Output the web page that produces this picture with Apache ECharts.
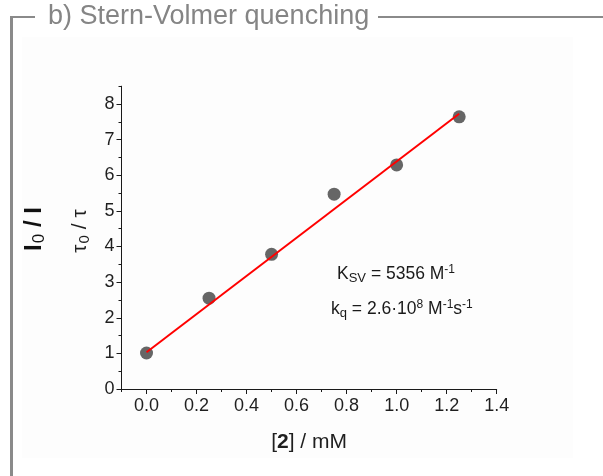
<!DOCTYPE html>
<html>
<head>
<meta charset="utf-8">
<script src="https://cdn.jsdelivr.net/npm/echarts@6/dist/echarts.min.js"></script>
<style>
  html, body { margin: 0; padding: 0; background: #ffffff; }
  #chart { width: 603px; height: 476px; }
</style>
</head>
<body>
<div id="chart"></div>
<script>
// Quencher concentration [2] in mM
const concentrations = [0.0, 0.25, 0.5, 0.75, 1.0, 1.25];
// Lifetime ratio tau0 / tau at each concentration
const tauRatios = [1.01, 2.55, 3.78, 5.47, 6.29, 7.64];
// Linear Stern-Volmer fit endpoints (slope 5.356 mM^-1 = 5356 M^-1)
const fitX = [0.0, 1.25];
const fitY = [1.03, 7.725];
// Axis tick labels
const xTicks = [0.0, 0.2, 0.4, 0.6, 0.8, 1.0, 1.2, 1.4];
const yTicks = [0, 1, 2, 3, 4, 5, 6, 7, 8];

const FONT = 'Liberation Sans, Arial, sans-serif';
const chart = echarts.init(document.getElementById('chart'), null, { renderer: 'canvas' });

const axisLineStyle = { color: '#1a1a1a', width: 1 };

const option = {
  backgroundColor: '#ffffff',
  animation: false,
  grid: { left: 121.5, right: 106.3, top: 86.2, bottom: 87, containLabel: false },
  xAxis: [
    {
      type: 'value', min: -0.1, max: 1.4,
      axisLine: { show: true, onZero: false, lineStyle: axisLineStyle },
      axisTick: { show: true, length: 5, customValues: xTicks, lineStyle: axisLineStyle },
      axisLabel: {
        show: true, customValues: xTicks, color: '#1f1f1f', fontSize: 18, fontFamily: FONT, margin: 8,
        formatter: v => v.toFixed(1)
      },
      splitLine: { show: false },
      name: '[{b|2}] / mM',
      nameLocation: 'middle',
      nameGap: 43,
      nameTextStyle: {
        color: '#1f1f1f', fontSize: 21, fontFamily: FONT,
        rich: { b: { fontSize: 21, fontWeight: 'bold', fontFamily: FONT, color: '#1f1f1f' } }
      }
    },
    {
      type: 'value', min: -0.1, max: 1.4, interval: 0.1, position: 'bottom',
      axisLine: { show: false, onZero: false },
      axisTick: { show: true, length: 3, lineStyle: axisLineStyle },
      axisLabel: { show: false },
      splitLine: { show: false }
    }
  ],
  yAxis: [
    {
      type: 'value', min: 0, max: 8.5,
      axisLine: { show: true, onZero: false, lineStyle: axisLineStyle },
      axisTick: { show: true, length: 5, customValues: yTicks, lineStyle: axisLineStyle },
      axisLabel: {
        show: true, customValues: yTicks, color: '#1f1f1f', fontSize: 18, fontFamily: FONT, margin: 7
      },
      splitLine: { show: false }
    },
    {
      type: 'value', min: 0, max: 8.5, interval: 0.5, position: 'left',
      axisLine: { show: false, onZero: false },
      axisTick: { show: true, length: 3, lineStyle: axisLineStyle },
      axisLabel: { show: false },
      splitLine: { show: false }
    }
  ],
  series: [
    {
      type: 'scatter',
      xAxisIndex: 0, yAxisIndex: 0,
      data: concentrations.map((c, i) => [c, tauRatios[i]]),
      symbol: 'circle',
      symbolSize: 13,
      itemStyle: { color: '#404040' },
      z: 2
    },
    {
      type: 'line',
      xAxisIndex: 0, yAxisIndex: 0,
      data: fitX.map((x, i) => [x, fitY[i]]),
      showSymbol: false,
      symbol: 'none',
      lineStyle: { color: '#ff0000', width: 2 },
      z: 3
    }
  ],
  graphic: [
    // panel background and frame
    { type: 'rect', z: -10, silent: true, shape: { x: 22, y: 37, width: 551, height: 421 }, style: { fill: '#fdfdfd' } },
    { type: 'line', z: 10, silent: true, shape: { x1: 11.5, y1: 16, x2: 11.5, y2: 476 }, style: { stroke: '#8a8a8a', lineWidth: 3 } },
    { type: 'line', z: 10, silent: true, shape: { x1: 10, y1: 17, x2: 35, y2: 17 }, style: { stroke: '#8a8a8a', lineWidth: 2 } },
    { type: 'line', z: 10, silent: true, shape: { x1: 378, y1: 17, x2: 603, y2: 17 }, style: { stroke: '#8a8a8a', lineWidth: 2 } },
    {
      type: 'text', z: 10, silent: true, x: 48, y: 17,
      style: {
        text: 'b) Stern-Volmer quenching', fill: '#858585', verticalAlign: 'middle',
        font: '27px Liberation Sans, Arial, sans-serif'
      }
    },
    // y-axis titles
    {
      type: 'text', z: 10, silent: true, x: 34, y: 229, rotation: Math.PI / 2,
      style: {
        text: '{m|I}{s|0}{m| / I}', align: 'center', verticalAlign: 'middle',
        rich: {
          m: { fontSize: 24, fontWeight: 'bold', fontFamily: FONT, fill: '#111111' },
          s: { fontSize: 17, fontFamily: FONT, fill: '#111111', padding: [10, 0, 0, 1] }
        }
      }
    },
    {
      type: 'text', z: 10, silent: true, x: 80, y: 231, rotation: Math.PI / 2,
      style: {
        text: '{m|τ}{s|0}{m| / τ}', align: 'center', verticalAlign: 'middle',
        rich: {
          m: { fontSize: 21, fontFamily: FONT, fill: '#1f1f1f' },
          s: { fontSize: 15, fontFamily: FONT, fill: '#1f1f1f', padding: [9, 0, 0, 1] }
        }
      }
    },
    // fit annotations
    {
      type: 'text', z: 10, silent: true, x: 337, y: 274,
      style: {
        text: '{m|K}{s|SV}{m| = 5356 M}{p|-1}', verticalAlign: 'middle',
        rich: {
          m: { fontSize: 17.5, fontFamily: FONT, fill: '#1a1a1a' },
          s: { fontSize: 13, fontFamily: FONT, fill: '#1a1a1a', padding: [9, 0, 0, 0] },
          p: { fontSize: 12, fontFamily: FONT, fill: '#1a1a1a', padding: [0, 0, 9, 0] }
        }
      }
    },
    {
      type: 'text', z: 10, silent: true, x: 331, y: 309,
      style: {
        text: '{m|k}{s|q}{m| = 2.6·10}{p|8}{m| M}{p|-1}{m|s}{p|-1}', verticalAlign: 'middle',
        rich: {
          m: { fontSize: 17.5, fontFamily: FONT, fill: '#1a1a1a' },
          s: { fontSize: 13, fontFamily: FONT, fill: '#1a1a1a', padding: [9, 0, 0, 0] },
          p: { fontSize: 12, fontFamily: FONT, fill: '#1a1a1a', padding: [0, 0, 9, 0] }
        }
      }
    }
  ]
};

chart.setOption(option);
</script>
</body>
</html>
